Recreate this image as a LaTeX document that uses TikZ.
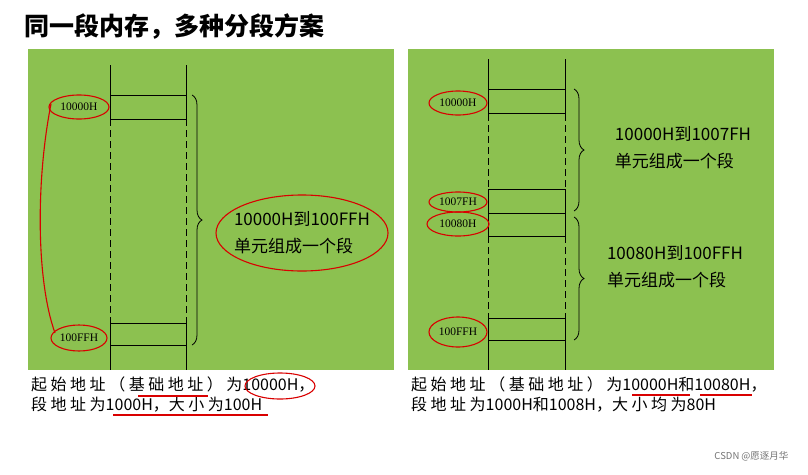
\documentclass[tikz,border=0pt]{standalone}
\usepackage{fontspec}
\setmainfont{Liberation Serif}
\newfontfamily\cjk{Noto Sans CJK SC}
\newfontfamily\cjkwide[LetterSpace=22]{Noto Sans CJK SC}
\newcommand\cw[1]{{\cjkwide #1}}
\usetikzlibrary{decorations.pathreplacing}
\definecolor{panelgreen}{RGB}{140,193,80}
\tikzset{
  panel/.style={fill=panelgreen,draw=none},
  addr/.style={font=\fontsize{11.5}{12}\selectfont,inner sep=1pt},
  seg/.style={font=\cjk\fontsize{17}{27}\selectfont,align=left},
  note/.style={font=\cjk\fontsize{16}{18}\selectfont,anchor=west,inner sep=0pt},
  ink/.style={red!85!black,line width=1.1pt},
  gap/.style={dash pattern=on 7pt off 4pt},
  brc/.style={decorate,decoration={brace,amplitude=10pt},thick}
}
\begin{document}
\begin{tikzpicture}[x=1pt,y=-1pt]
\useasboundingbox (0,0) rectangle (808,474);
\node[font=\cjk\bfseries\fontsize{25}{28}\selectfont,anchor=west,inner sep=0pt] (title) at (24,27) {同一段内存，多种分段方案};
% left panel
\fill[panel] (28,49) rectangle (394,370);
\draw (110,65) -- (110,119) (186,65) -- (186,119);
\draw[gap] (110,119) -- (110,323) (186,119) -- (186,323);
\draw (110,323) -- (110,370) (186,323) -- (186,370);
\draw (110,95) rectangle (186,119);
\draw (110,323) rectangle (186,345);
\node[addr] (la) at (79,107) {10000H};
\node[addr] (lb) at (79,338) {100FFH};
\draw[brc] (192,95) -- (192,345);
\node[seg] (lt) at (302,233) {10000H到100FFH\\单元组成一个段};
\node[note] (ln1) at (31,385) {\cw{起始地址（基础地址）为}10000H，};
\node[note] (ln2) at (31,405) {\cw{段地址为}1000H，\cw{大小为}100H};
% right panel
\fill[panel] (408,49) rectangle (774,370);
\draw (488,59) -- (488,114) (565,59) -- (565,114);
\draw[gap] (488,114) -- (488,189) (565,114) -- (565,189);
\draw (488,189) -- (488,236) (565,189) -- (565,236);
\draw[gap] (488,236) -- (488,318) (565,236) -- (565,318);
\draw (488,318) -- (488,370) (565,318) -- (565,370);
\draw (488,89) rectangle (565,113);
\draw (488,189) rectangle (565,236);
\draw (488,213) -- (565,213);
\draw (488,318) rectangle (565,340);
\node[addr] (ra) at (458,103) {10000H};
\node[addr] (rb) at (458,202) {1007FH};
\node[addr] (rc) at (458,224) {10080H};
\node[addr] (rd) at (458,332) {100FFH};
\draw[brc] (574,89) -- (574,211);
\draw[brc] (574,217) -- (574,340);
\node[seg] (rt1) at (683,148) {10000H到1007FH\\单元组成一个段};
\node[seg] (rt2) at (675,267) {10080H到100FFH\\单元组成一个段};
\node[note] (rn1) at (411,385) {\cw{起始地址（基础地址）为}10000H和10080H，};
\node[note] (rn2) at (411,405) {\cw{段地址为}1000H和1008H，\cw{大小均为}80H};
% red ink
\draw[ink] (la) ellipse (30 and 12);
\draw[ink] (lb) ellipse (28 and 13);
\draw[ink] (51,104) .. controls (36,180) and (36,280) .. (55,333);
\draw[ink] (lt) ellipse (86 and 38);
\draw[ink] (ra) ellipse (29 and 12);
\draw[ink] (rb) ellipse (29 and 10);
\draw[ink] (rc) ellipse (31 and 12);
\draw[ink] (rd) ellipse (29 and 15);
\draw[ink] (138,396) -- (208,396);
\draw[ink] (280,386) ellipse (35 and 13);
\draw[ink] (113,415) -- (268,415);
\draw[ink] (632,395) -- (690,395);
\draw[ink] (700,395) -- (752,395);
\node[font=\cjk\fontsize{9.5}{11}\selectfont,text=black!55,anchor=east] (mark) at (792,456) {CSDN @愿逐月华};
\end{tikzpicture}
\end{document}
